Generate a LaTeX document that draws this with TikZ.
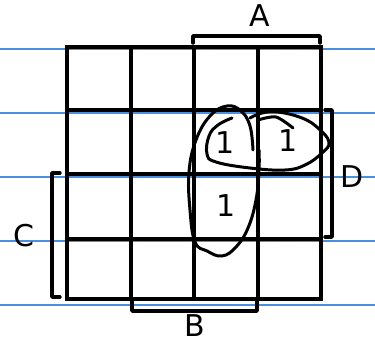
\documentclass[tikz,border=0pt]{standalone}
\usepackage{fontspec}
\setmainfont{DejaVu Sans}
\usetikzlibrary{positioning}
\definecolor{ruled}{RGB}{74,144,226}

\begin{document}
\begin{tikzpicture}[x=1pt,y=-1pt,
    grid/.style={line width=3.8pt},
    brace/.style={line width=3.4pt,line cap=round,line join=round},
    loop/.style={line width=3pt,line cap=round,line join=round},
    lbl/.style={font=\fontsize{30}{30}\selectfont,inner sep=0pt}]
  \useasboundingbox (0,0) rectangle (375,342);
  \foreach \y in {49,113,177,241,305}
    \draw[ruled,line width=1.3pt] (0,\y) -- (375,\y);
  % the map
  \draw[grid] (67,47) rectangle (321,299);
  \foreach \x in {131,194,258}
    \draw[grid] (\x,47) -- (\x,299);
  \foreach \y in {110,174,239}
    \draw[grid] (67,\y) -- (321,\y);
  % variable ranges
  \draw[brace] (193,43) -- (193,36) -- (320,36) -- (320,43);
  \draw[brace] (325,110) -- (332,110) -- (332,237) -- (325,237);
  \draw[brace] (60,173) -- (52,173) -- (52,297) -- (60,297);
  \draw[brace] (132,300) -- (132,311) -- (257,311) -- (257,300);
  \node[lbl] (a) at (260,16) {A};
  \node[lbl] (d) at (352,177) {D};
  \node[lbl] (c) at (24,236) {C};
  \node[lbl] (b) at (195,326) {B};
  \node[lbl] (m13) at (225,143) {1};
  \node[lbl] (m9) at (288,141) {1};
  \node[lbl] (m15) at (226,206) {1};
  % groupings
  \draw[loop] plot[smooth,tension=0.7] coordinates {(253,150) (250,126) (241,111)
    (227,106) (210,116) (196,140) (189,172) (190,210) (195,242) (207,251) (222,256)
    (236,247) (248,228) (256,200) (259,170) (259,150)};
  \draw[loop] plot[smooth,tension=0.7] coordinates {(232,118) (218,125) (209,136)
    (207,154) (216,162) (250,168) (285,170) (305,165) (322,153) (329,142) (318,128)
    (302,118) (278,112) (262,113) (250,118)};
  \draw[loop] plot[smooth] coordinates {(258,120) (276,117) (293,128)};
\end{tikzpicture}
\end{document}
